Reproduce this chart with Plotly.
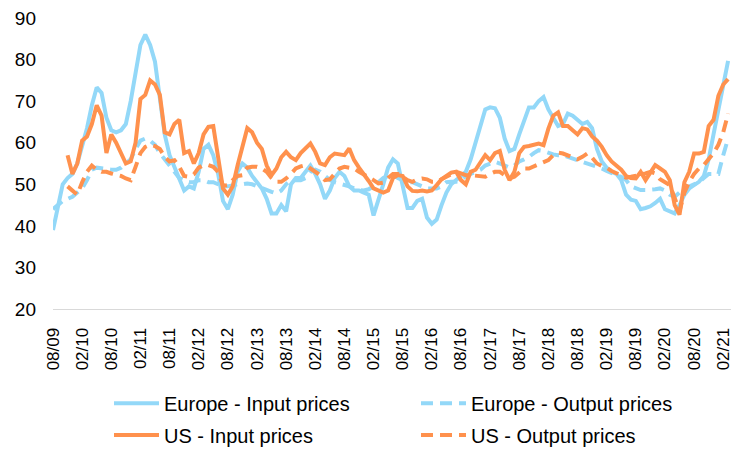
import plotly.graph_objects as go

# Monthly index: 0 = Aug 2009 ... 139 = Mar 2021
months = list(range(140))

europe_input = [39, 45, 50, 51.5, 52.5, 55, 59, 63.5, 69, 73.3, 72, 66, 63, 62.5, 63, 64.5, 70, 77.5, 83.5, 86,
                83.5, 79.5, 70.5, 62, 57, 54, 51.5, 48.5, 49.5, 49, 53, 58.5, 59.5, 57, 52.5, 46, 44, 47.5, 53, 55,
                54, 52, 50.5, 49, 46.5, 43, 43, 45, 43.5, 50, 51.5, 51.5, 53, 54.5, 52.5, 50, 46.5, 48.5, 51.5, 53,
                52, 49.5, 48.5, 48.5, 48, 47.5, 42.5, 46, 50, 54, 56, 55, 49.5, 44.3, 44.3, 46, 46.5, 42, 40.5,
                41.5, 45, 48, 50, 51, 52, 53, 56, 60, 64.5, 68, 68.5, 68.3, 66, 61, 58, 58.5, 62, 65.5, 68.5,
                68.5, 70, 71, 68, 66, 64, 64.5, 67, 66.5, 65.5, 64.5, 65, 63.5, 58.5, 55.5, 54, 53, 52.5, 51, 47.5,
                46.3, 46, 44, 44.3, 44.7, 45.5, 46.5, 44, 43.5, 43, 45, 47.5, 49, 49.8, 50.6, 52, 56, 62, 68, 74.5,
                79.7]

europe_output = [44, 45, 46, 46.5, 47, 48, 49, 51, 53.5, 54, 53.8, 53.5, 53.5, 53.5, 54, 55, 56, 58.5, 60.5, 61,
                 60.5, 59.5, 57.5, 56, 54.5, 53, 51.5, 51, 50.5, 50.5, 51, 51, 50.5, 50.5, 50, 49.5, 49.5, 49.8, 50, 50,
                 50.2, 50, 49.5, 49, 48.5, 48.2, 47.8, 48.5, 50, 51, 51, 51, 51.5, 53, 53.5, 53, 52, 51, 50.5, 50.2,
                 50, 49.5, 49, 48.6, 48.5, 48.8, 49.5, 50.5, 51.5, 52, 52.5, 51.5, 51, 50.5, 50.5, 50, 49.5, 49, 49,
                 49, 49.5, 50.5, 50.6, 50.6, 51, 52, 52.5, 53, 53.5, 54.5, 55, 55.4, 55, 54.5, 54, 54.5, 55.5, 56, 56.6,
                 57.5, 58.2, 58, 57.5, 57.2, 57, 57, 56.6, 56.2, 56, 55.5, 55, 54.6, 54.2, 53.8, 53.2, 52.6, 52.2, 51.8, 51,
                 49.5, 49, 48.6, 48.6, 48.6, 48.8, 49, 48.5, 47.5, 47, 48, 48.5, 49.5, 50, 50.5, 51.5, 52.5, 52.5, 52.5, 57,
                 61]

us_input = [None, None, None, 57, 52.5, 55, 60.5, 61.5, 64.5, 69, 66.5, 57.5, 62, 60, 57.5, 55, 55.5, 60, 70.5, 71.5,
            75, 74, 71.5, 62.5, 62, 64.5, 65.5, 57.5, 58, 55, 57.5, 62, 63.8, 64, 56.5, 49, 47.5, 49.5, 54.5, 59.5,
            63.5, 62.5, 60, 58.5, 54.5, 52.2, 53.8, 56.5, 57.8, 56.5, 55.8, 57.5, 58.5, 59.8, 57.8, 55, 54.6, 56.5, 57.4, 57.2,
            57, 58.6, 55.8, 54, 52.5, 50.8, 49, 48.4, 48, 48.5, 51.5, 52.2, 52, 49.5, 48.4, 48.3, 48.5, 48.3, 48.5,
            49.8, 51.2, 52, 52.8, 53, 51, 50, 53, 53.5, 55.4, 57, 55.8, 57.5, 58, 53.5, 51, 53, 57.5, 59, 59.2,
            59.4, 59.8, 59.4, 63.4, 66.5, 67.3, 64, 64, 63, 62, 63.5, 63.2, 61.5, 60.5, 59, 57, 55.5, 54.5, 53.5, 52,
            51.5, 51.4, 53, 51, 53, 54.6, 53.8, 53, 51, 45, 42.7, 50.5, 53, 57.4, 57.4, 57.8, 64, 65.5, 71.3, 74,
            75.3]

us_output = [None, None, None, 49.5, 48.5, 47.5, 50.5, 53, 54.5, 53.5, 53, 53, 52.6, 52.4, 52, 51.4, 51, 54.2, 57.5, 59,
             59.5, 59.2, 58.5, 56.6, 55.5, 55.8, 54.2, 52, 51.8, 52.4, 54, 54.6, 54.6, 54.2, 53, 49.6, 49.8, 51, 52, 52.2,
             54, 54.2, 54.2, 53.8, 53, 51.5, 50.6, 50.6, 51.4, 52.5, 53.8, 54.3, 54.6, 53.8, 53, 52.2, 51, 51.2, 52.5, 53.8,
             54.2, 54, 53.8, 53, 52.4, 51.8, 51, 50.2, 50.4, 51.5, 52.5, 52.5, 51.8, 51, 50.6, 51.2, 51.4, 51.2, 50.6,
             50.6, 51.2, 51.8, 52.6, 53, 52.6, 52.2, 52.2, 52, 51.8, 51.8, 52.5, 53, 53, 52.2, 51.4, 51.8, 52.8, 53.8, 53.8,
             54.3, 55, 55.4, 55.8, 57, 57.6, 57.4, 57, 56.4, 56, 56.6, 57.4, 56.4, 55, 54.4, 54, 53.2, 52.6, 52, 51.6,
             51.8, 52, 52.4, 52.6, 53, 52.6, 51.2, 50.4, 49.8, 46.7, 43.5, 48, 50.6, 52.5, 53.8, 54.6, 56, 57.5, 59.5, 62.5,
             67]

tick_months = [0, 6, 12, 18, 24, 30, 36, 42, 48, 54, 60, 66, 72, 78, 84, 90, 96, 102, 108, 114, 120, 126, 132, 138]
tick_labels = ["08/09", "02/10", "08/10", "02/11", "08/11", "02/12", "08/12", "02/13", "08/13", "02/14", "08/14",
               "02/15", "08/15", "02/16", "08/16", "02/17", "08/17", "02/18", "08/18", "02/19", "08/19", "02/20",
               "08/20", "02/21"]

series_names = ["Europe - Input prices", "Europe - Output prices", "US - Input prices", "US - Output prices"]

BLUE = "#93D8F8"
ORANGE = "#FF914D"
DASH = "12px,7px"

fig = go.Figure()
fig.add_trace(go.Scatter(x=months, y=europe_input, mode="lines", name=series_names[0], legend="legend",
                         line=dict(color=BLUE, width=4)))
fig.add_trace(go.Scatter(x=months, y=europe_output, mode="lines", name=series_names[1], legend="legend",
                         line=dict(color=BLUE, width=4, dash=DASH)))
fig.add_trace(go.Scatter(x=months, y=us_input, mode="lines", name=series_names[2], legend="legend2",
                         line=dict(color=ORANGE, width=4)))
fig.add_trace(go.Scatter(x=months, y=us_output, mode="lines", name=series_names[3], legend="legend2",
                         line=dict(color=ORANGE, width=4, dash=DASH)))

legend_common = dict(orientation="h", x=0.0826, xanchor="left", yanchor="middle",
                     entrywidth=247, entrywidthmode="pixels", itemwidth=45,
                     font=dict(size=20, color="#000000"), bgcolor="rgba(0,0,0,0)")

fig.update_layout(
    width=735, height=454,
    margin=dict(l=53, r=4, t=17.5, b=144.5, autoexpand=False),
    paper_bgcolor="white", plot_bgcolor="white",
    font=dict(family="Liberation Sans, Arial, sans-serif", color="#000000"),
    showlegend=True,
    legend=dict(y=-0.324, **legend_common),
    legend2=dict(y=-0.433, **legend_common),
)
fig.update_xaxes(range=[0, 139.6], tickmode="array", tickvals=tick_months, ticktext=tick_labels,
                 tickangle=-90, tickfont=dict(size=17), showgrid=False, zeroline=False, automargin=False,
                 showline=True, linecolor="#D9D9D9", linewidth=1, ticks="", ticklabelstandoff=11)
fig.update_yaxes(range=[20, 90], dtick=10, tick0=20, showgrid=False, zeroline=False, automargin=False,
                 showline=False, tickfont=dict(size=19), ticks="", ticklabelstandoff=16)

fig.write_html("out.html", config={"displayModeBar": False},
               post_script="document.body.style.margin='0px';")
